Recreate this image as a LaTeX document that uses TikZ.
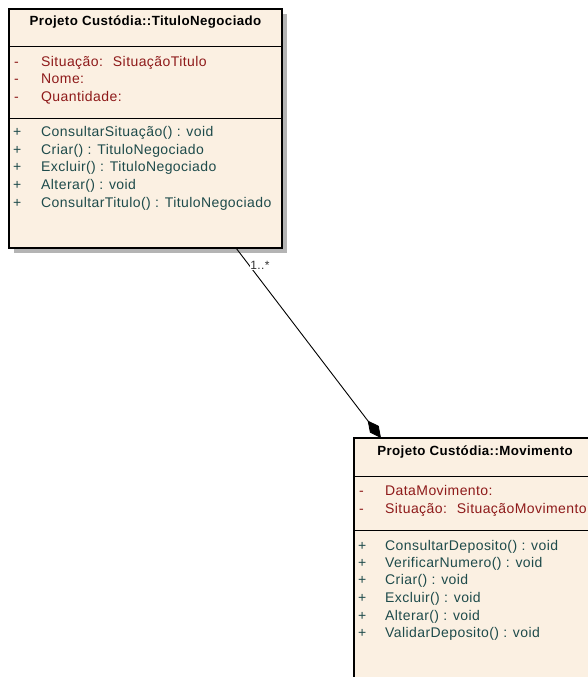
\documentclass[tikz,border=0pt]{standalone}
\usepackage{fontspec}
\setmainfont{Liberation Sans}
\newfontfamily\umlfont[LetterSpace=3]{Liberation Sans}
\usetikzlibrary{arrows.meta}
\definecolor{classfill}{HTML}{FBF0E2}
\definecolor{attrcol}{HTML}{8E1A1A}
\definecolor{opcol}{HTML}{1E4B4B}
\definecolor{shadowcol}{HTML}{B4B4B4}
\tikzset{
  classbox/.style={draw=black, line width=1.2pt, fill=classfill},
  shadowbox/.style={fill=shadowcol, draw=none},
  sepline/.style={draw=black, line width=1pt},
  titletext/.style={font=\umlfont\fontsize{13.3}{15}\selectfont\bfseries, inner sep=0pt},
  attrtext/.style={font=\umlfont\fontsize{14}{16}\selectfont, text=attrcol, anchor=base west, inner sep=0pt},
  optext/.style={font=\umlfont\fontsize{14}{16}\selectfont, text=opcol, anchor=base west, inner sep=0pt},
  multtext/.style={font=\umlfont\fontsize{12}{13}\selectfont, text=black!80, fill=white, inner sep=0.5pt},
  assoc/.style={draw=black, line width=0.9pt, -{Diamond[length=22pt,width=11pt,fill=black]}}
}
\begin{document}
\begin{tikzpicture}[x=1pt,y=-1pt]
\useasboundingbox (0,0) rectangle (588,677);
\clip (0,0) rectangle (588,677);

% TituloNegociado class
\fill[shadowbox] (14,14) rectangle (287,253);
\draw[classbox] (9,9) rectangle (282,248);
\coordinate (t1) at (236,248);
\draw[sepline] (9,47) -- (282,47);
\draw[sepline] (9,118) -- (282,118);
\node[titletext] (ttitle) at (145.5,22) {Projeto Custódia::TituloNegociado};
\node[attrtext] (ta1m) at (14,66.5) {-};
\node[attrtext] (ta1) at (41,66.5) {Situação:~ SituaçãoTitulo};
\node[attrtext] (ta2m) at (14,84) {-};
\node[attrtext] (ta2) at (41,84) {Nome:};
\node[attrtext] (ta3m) at (14,101.5) {-};
\node[attrtext] (ta3) at (41,101.5) {Quantidade:};
\node[optext] (to1m) at (13,136) {+};
\node[optext] (to1) at (41,136) {ConsultarSituação() : void};
\node[optext] (to2m) at (13,154) {+};
\node[optext] (to2) at (41,154) {Criar() : TituloNegociado};
\node[optext] (to3m) at (13,171.5) {+};
\node[optext] (to3) at (41,171.5) {Excluir() : TituloNegociado};
\node[optext] (to4m) at (13,189) {+};
\node[optext] (to4) at (41,189) {Alterar() : void};
\node[optext] (to5m) at (13,207) {+};
\node[optext] (to5) at (41,207) {ConsultarTitulo() : TituloNegociado};

% Movimento class
\fill[shadowbox] (359,444) rectangle (605,700);
\draw[classbox] (354,438) rectangle (600,695);
\coordinate (m1) at (381,438);
\draw[sepline] (354,476) -- (600,476);
\draw[sepline] (354,530) -- (600,530);
\node[titletext] (mtitle) at (475,452) {Projeto Custódia::Movimento};
\node[attrtext] (ma1m) at (359,495) {-};
\node[attrtext] (ma1) at (385,495) {DataMovimento:};
\node[attrtext] (ma2m) at (359,513) {-};
\node[attrtext] (ma2) at (385,513) {Situação:~ SituaçãoMovimento};
\node[optext] (mo1m) at (358,550) {+};
\node[optext] (mo1) at (385,550) {ConsultarDeposito() : void};
\node[optext] (mo2m) at (358,567) {+};
\node[optext] (mo2) at (385,567) {VerificarNumero() : void};
\node[optext] (mo3m) at (358,584) {+};
\node[optext] (mo3) at (385,584) {Criar() : void};
\node[optext] (mo4m) at (358,602) {+};
\node[optext] (mo4) at (385,602) {Excluir() : void};
\node[optext] (mo5m) at (358,620) {+};
\node[optext] (mo5) at (385,620) {Alterar() : void};
\node[optext] (mo6m) at (358,637) {+};
\node[optext] (mo6) at (385,637) {ValidarDeposito() : void};

% Composition association
\draw[assoc] (t1) -- (m1);
\node[multtext] (mult) at (260,265) {1..*};
\end{tikzpicture}
\end{document}
